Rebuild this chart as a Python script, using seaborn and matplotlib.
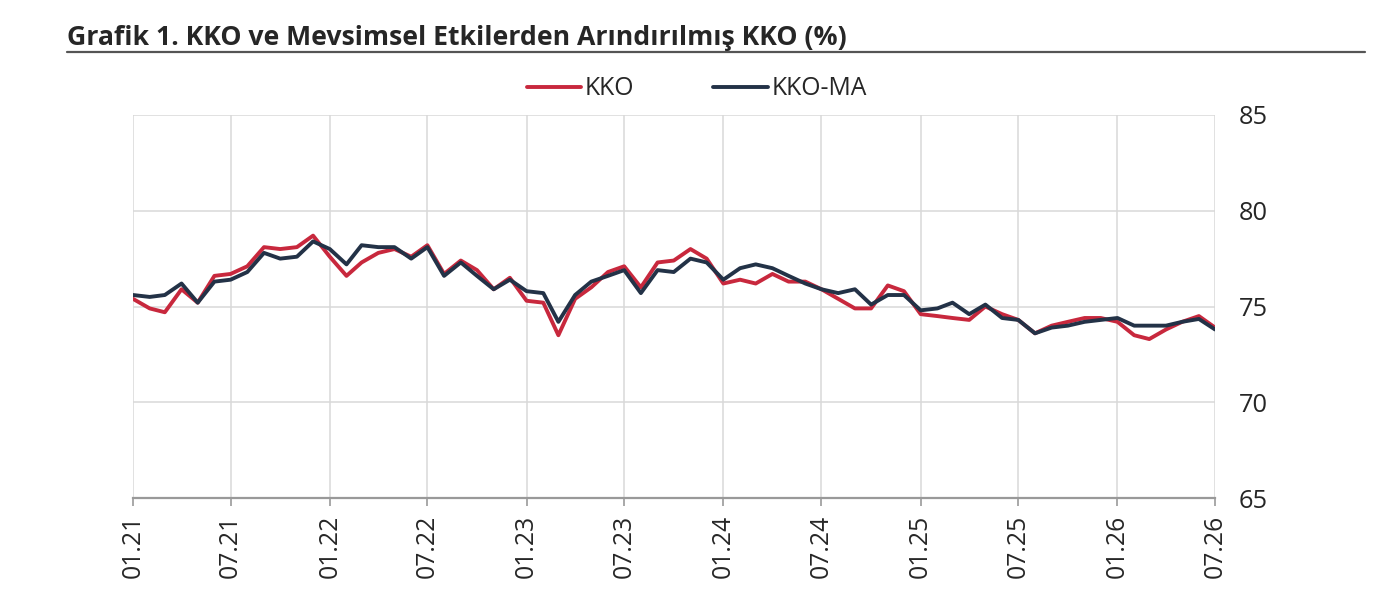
import pandas as pd
import numpy as np
import matplotlib.pyplot as plt
import matplotlib.dates as mdates
from matplotlib.lines import Line2D
import seaborn as sns

months = pd.date_range('2021-01-01', '2026-07-01', freq='MS')

kko = [75.4, 74.9, 74.7, 75.9, 75.2, 76.6, 76.7, 77.1, 78.1, 78.0,
       78.1, 78.7, 77.6, 76.6, 77.3, 77.8, 78.0, 77.6, 78.2, 76.7,
       77.4, 76.9, 75.9, 76.5, 75.3, 75.2, 73.5, 75.4, 76.0, 76.8,
       77.1, 76.0, 77.3, 77.4, 78.0, 77.5, 76.2, 76.4, 76.2, 76.7,
       76.3, 76.3, 75.9, 75.4, 74.9, 74.9, 76.1, 75.8, 74.6, 74.5,
       74.4, 74.3, 75.0, 74.6, 74.3, 73.6, 74.0, 74.2, 74.4, 74.4,
       74.2, 73.5, 73.3, 73.8, 74.2, 74.5, 73.9]

kko_ma = [75.6, 75.5, 75.6, 76.2, 75.2, 76.3, 76.4, 76.8, 77.8, 77.5,
          77.6, 78.4, 78.0, 77.2, 78.2, 78.1, 78.1, 77.5, 78.1, 76.6,
          77.3, 76.6, 75.9, 76.4, 75.8, 75.7, 74.2, 75.6, 76.3, 76.6,
          76.9, 75.7, 76.9, 76.8, 77.5, 77.3, 76.4, 77.0, 77.2, 77.0,
          76.6, 76.2, 75.9, 75.7, 75.9, 75.1, 75.6, 75.6, 74.8, 74.9,
          75.2, 74.6, 75.1, 74.4, 74.3, 73.6, 73.9, 74.0, 74.2, 74.3,
          74.4, 74.0, 74.0, 74.0, 74.2, 74.35, 73.8]

df = pd.DataFrame({'Tarih': list(months) * 2,
                   'Deger': kko + kko_ma,
                   'Seri': ['KKO'] * len(kko) + ['KKO-MA'] * len(kko_ma)})

sns.set_style('white')
plt.rcParams['font.family'] = ['Open Sans', 'DejaVu Sans']

fig = plt.figure(figsize=(14, 5.98), dpi=100)
ax = fig.add_axes([0.095, 0.1672, 0.7729, 0.6405])

sns.lineplot(data=df, x='Tarih', y='Deger', hue='Seri', ax=ax,
             palette={'KKO': '#C8283D', 'KKO-MA': '#233247'},
             linewidth=2.8, legend=False)

ax.set_xlim(months[0], months[-1])
ax.set_ylim(65, 85)
ax.set_yticks([65, 70, 75, 80, 85])
ax.yaxis.tick_right()
ax.xaxis.set_major_locator(mdates.MonthLocator(bymonth=[1, 7]))
ax.xaxis.set_major_formatter(mdates.DateFormatter('%m.%y'))
ax.tick_params(axis='x', labelrotation=90, labelsize=17.8, length=6, width=1.2,
               color='#999999', direction='out', bottom=True, pad=6)
ax.tick_params(axis='y', labelsize=18.3, length=0, pad=17, right=False)
ax.set_xlabel('')
ax.set_ylabel('')
ax.grid(True, color='#d9d9d9', linewidth=1.1)
for s in ['top', 'left', 'right']:
    ax.spines[s].set_visible(False)
ax.spines['bottom'].set_color('#999999')
ax.spines['bottom'].set_linewidth(1.6)

handles = [Line2D([], [], color='#C8283D', lw=2.8),
           Line2D([], [], color='#233247', lw=2.8)]
ax.legend(handles, ['KKO', 'KKO-MA'], loc='center', bbox_to_anchor=(0.521, 1.068),
          ncol=2, frameon=False, fontsize=17.8, handlelength=2.2,
          handletextpad=0.15, columnspacing=3.2)

fig.text(0.048, 0.936, 'Grafik 1. KKO ve Mevsimsel Etkilerden Arındırılmış KKO (%)',
         fontsize=19.2, fontweight='bold', ha='left', va='center')
fig.add_artist(Line2D([0.048, 0.975], [0.913, 0.913], color='#555555', lw=1.6,
                      transform=fig.transFigure))

fig.savefig('out.png', dpi=100)
